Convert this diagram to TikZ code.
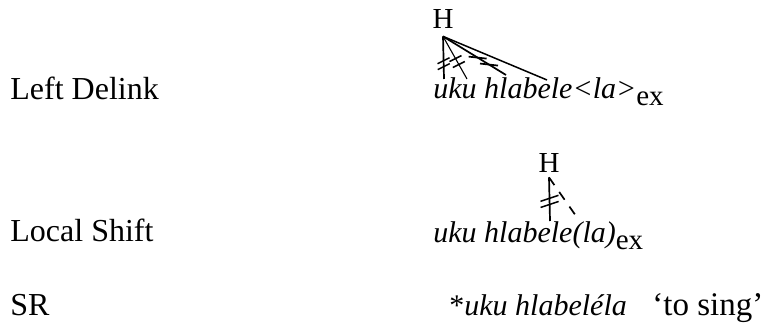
\documentclass[tikz,border=0pt]{standalone}
\usepackage{fontspec}
\setmainfont{Liberation Serif}
\newcommand\exmark{\raisebox{-3.5pt}{\upshape\fontsize{14.5}{16}\selectfont ex}}
\begin{document}
\begin{tikzpicture}[x=0.5pt,y=-0.5pt,
  lab/.style={anchor=base west,inner sep=0pt,font=\fontsize{16}{19}\selectfont},
  gloss/.style={anchor=base west,inner sep=0pt,font=\fontsize{16.5}{19}\selectfont},
  form/.style={anchor=base west,inner sep=0pt,font=\fontsize{15}{18}\selectfont\itshape},
  tone/.style={anchor=base,inner sep=0pt,font=\fontsize{14.5}{17}\selectfont},
  assoc/.style={line width=0.85pt},
  thinassoc/.style={line width=0.55pt},
  cut/.style={line width=0.75pt},
  newlink/.style={line width=0.85pt,dash pattern=on 4.7pt off 4.2pt}]
\useasboundingbox (0,0) rectangle (779,324);

% rule names
\node[lab] (ld) at (10,100) {Left Delink};
\node[lab] (ls) at (10,242) {Local Shift};
\node[lab] (sr) at (10,316) {SR};

% forms
\node[form] (f1) at (433,99) {uku hlabele<la>\exmark};
\node[form] (f2) at (433,243) {uku hlabele(la)\exmark};
\node[form] (f3) at (449,316) {{\upshape *}uku hlabeléla};
\node[gloss] (gl) at (652,316) {‘to sing’};

% tones
\node[tone] (H1) at (443,29) {H};
\node[tone] (H2) at (549,173) {H};
\coordinate (h1) at ([yshift=-3.5pt]H1.south);
\coordinate (h2) at ([yshift=-2pt]H2.south);

% docking points on the vowels
\coordinate (v1) at (444,79);
\coordinate (v2) at (467,79);
\coordinate (v3) at (506,75);
\coordinate (v4) at (547,80);
\coordinate (v5) at (550,221);
\coordinate (v6) at (576,216);

% Left Delink: associations
\draw[assoc] (h1) -- (v1);
\draw[thinassoc] (h1) -- (v2);
\draw[assoc] (h1) -- (v3);
\draw[line width=0.75pt] (h1) -- (v4);

% delinking marks
\path (h1) -- (v1) coordinate[pos=0.57] (c1) coordinate[pos=0.71] (c2);
\path (h1) -- (v2) coordinate[pos=0.52] (c3) coordinate[pos=0.66] (c4);
\path (h1) -- (v3) coordinate[pos=0.55] (c5) coordinate[pos=0.73] (c6);
\foreach \c in {c1,c2,c3,c4}
  \draw[cut] ([shift={(-6,3)}]\c) -- ([shift={(6,-3)}]\c);
\foreach \c in {c5,c6}
  \draw[assoc] ([shift={(-9,-1)}]\c) -- ([shift={(9,1)}]\c);

% Local Shift
\draw[assoc] (h2) -- (v5);
\draw[newlink] (h2) -- (v6);
\path (h2) -- (v5) coordinate[pos=0.48] (c7) coordinate[pos=0.62] (c8);
\foreach \c in {c7,c8}
  \draw[cut] ([shift={(-9,3)}]\c) -- ([shift={(9,-3)}]\c);
\end{tikzpicture}
\end{document}
